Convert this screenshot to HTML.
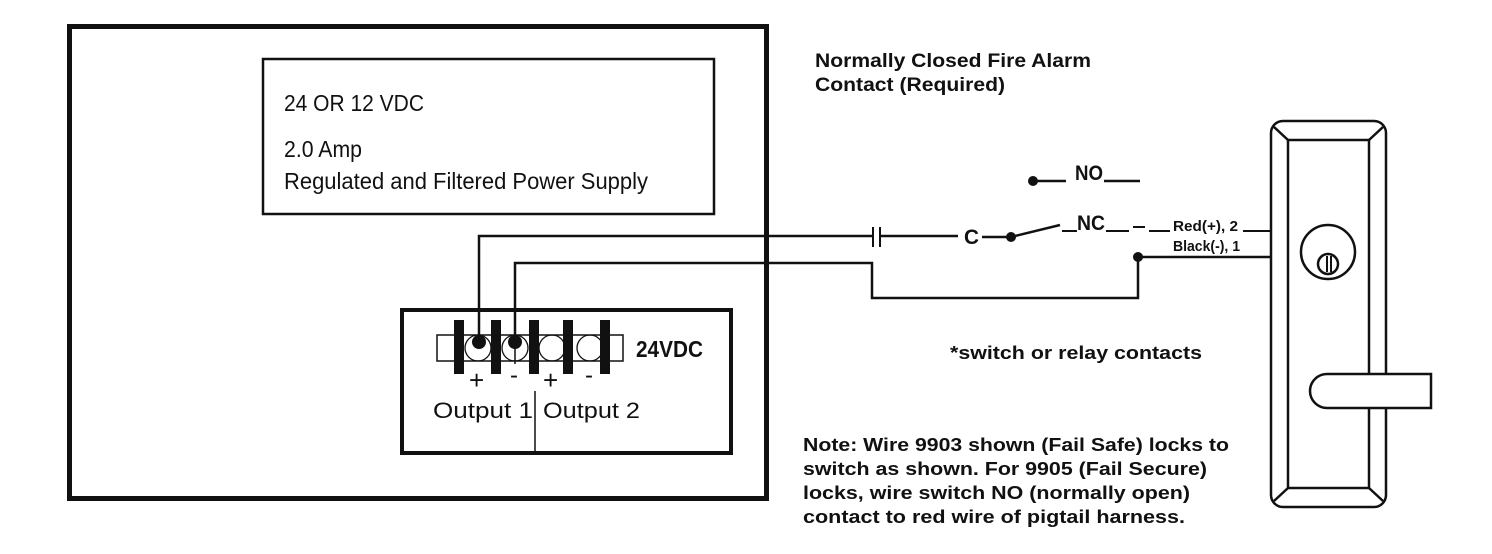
<!DOCTYPE html>
<html><head><meta charset="utf-8"><style>
html,body{margin:0;padding:0;background:#fff;}
svg{display:block}
text{font-family:"Liberation Sans",sans-serif;fill:#111}
.b{font-weight:bold}
</style></head><body>
<svg width="1492" height="554" viewBox="0 0 1492 554" xmlns="http://www.w3.org/2000/svg">
<g fill="none" stroke="#111">
<rect x="69.5" y="26.5" width="697" height="472" stroke-width="5"/>
<rect x="263" y="59" width="451" height="155" stroke-width="2.5"/>
<rect x="402" y="310" width="329" height="143" stroke-width="4"/>
<rect x="437" y="335" width="186" height="26" stroke-width="1.5"/>
<g stroke-width="1.3">
<circle cx="478" cy="348" r="13"/><circle cx="515" cy="348" r="13"/><circle cx="552" cy="348" r="13"/><circle cx="590" cy="348" r="13"/>
</g>
<line x1="535" y1="391" x2="535" y2="453" stroke-width="1.5"/>
<polyline points="479,342 479,236 872,236" stroke-width="2.5"/>
<polyline points="515,342 515,263 872,263 872,298 1138,298 1138,257 1271,257" stroke-width="2.5"/>
<line x1="515" y1="342" x2="515" y2="364" stroke-width="1.5"/>
<line x1="873" y1="227" x2="873" y2="247" stroke-width="2"/>
<line x1="880" y1="227" x2="880" y2="247" stroke-width="2"/>
<line x1="880" y1="236" x2="958" y2="236" stroke-width="2.5"/>
<line x1="982" y1="237" x2="1011" y2="237" stroke-width="2.5"/>
<line x1="1011" y1="237" x2="1060" y2="225" stroke-width="2.5"/>
<line x1="1062" y1="231" x2="1077" y2="231" stroke-width="2"/>
<line x1="1106" y1="231" x2="1129" y2="231" stroke-width="2"/>
<line x1="1133" y1="227" x2="1145" y2="227" stroke-width="2"/>
<line x1="1149" y1="231" x2="1170" y2="231" stroke-width="2"/>
<line x1="1243" y1="231" x2="1271" y2="231" stroke-width="2"/>
<line x1="1033" y1="181" x2="1066" y2="181" stroke-width="2.5"/>
<line x1="1104" y1="181" x2="1140" y2="181" stroke-width="2.5"/>
<g stroke-width="2.5">
<rect x="1271" y="121" width="115" height="386" rx="12"/>
<rect x="1288" y="140" width="81" height="348"/>
<line x1="1274" y1="127" x2="1288" y2="140"/><line x1="1383" y1="127" x2="1369" y2="140"/>
<line x1="1274" y1="501" x2="1288" y2="488"/><line x1="1383" y1="501" x2="1369" y2="488"/>
<circle cx="1328" cy="252" r="27"/>
<circle cx="1328" cy="264" r="10"/>
<path d="M1327,256 V272 M1331,256 V272" stroke-width="2"/>
<path d="M1327,374 H1431 V408 H1327 A17,17 0 0 1 1327,374 Z" fill="#fff"/>
</g>
</g>
<g fill="#111">
<rect x="454" y="320" width="10" height="54"/><rect x="491" y="320" width="10" height="54"/><rect x="529" y="320" width="10" height="54"/><rect x="563" y="320" width="10" height="54"/><rect x="600" y="320" width="10" height="54"/>
<circle cx="479" cy="342" r="7"/><circle cx="515" cy="342" r="7"/>
<circle cx="1011" cy="237" r="5"/><circle cx="1033" cy="181" r="5"/><circle cx="1138" cy="257" r="5"/>
</g>
<text x="284" y="111" font-size="23" textLength="140" lengthAdjust="spacingAndGlyphs">24 OR 12 VDC</text>
<text x="284" y="157" font-size="23" textLength="78" lengthAdjust="spacingAndGlyphs">2.0 Amp</text>
<text x="284" y="189" font-size="23" textLength="364" lengthAdjust="spacingAndGlyphs">Regulated and Filtered Power Supply</text>
<text x="636" y="357" font-size="23" class="b" textLength="67" lengthAdjust="spacingAndGlyphs">24VDC</text>
<text x="469" y="389" font-size="26">+</text>
<text x="510" y="383" font-size="24">-</text>
<text x="543" y="389" font-size="26">+</text>
<text x="585" y="383" font-size="24">-</text>
<text x="433" y="418" font-size="22" textLength="100" lengthAdjust="spacingAndGlyphs">Output 1</text>
<text x="543" y="418" font-size="22" textLength="97" lengthAdjust="spacingAndGlyphs">Output 2</text>
<text x="815" y="67" font-size="19" class="b" textLength="276" lengthAdjust="spacingAndGlyphs">Normally Closed Fire Alarm</text>
<text x="815" y="91" font-size="19" class="b" textLength="190" lengthAdjust="spacingAndGlyphs">Contact (Required)</text>
<text x="1075" y="180" font-size="21" class="b" textLength="28" lengthAdjust="spacingAndGlyphs">NO</text>
<text x="1077" y="230" font-size="21" class="b" textLength="28" lengthAdjust="spacingAndGlyphs">NC</text>
<text x="964" y="244" font-size="21" class="b" textLength="15" lengthAdjust="spacingAndGlyphs">C</text>
<text x="1173" y="231" font-size="15" class="b" textLength="65" lengthAdjust="spacingAndGlyphs">Red(+), 2</text>
<text x="1173" y="251" font-size="15" class="b" textLength="67" lengthAdjust="spacingAndGlyphs">Black(-), 1</text>
<text x="950" y="359" font-size="18" class="b" textLength="252" lengthAdjust="spacingAndGlyphs">*switch or relay contacts</text>
<g font-size="18" class="b">
<text x="803" y="451" textLength="426" lengthAdjust="spacingAndGlyphs">Note: Wire 9903 shown (Fail Safe) locks to</text>
<text x="803" y="475" textLength="404" lengthAdjust="spacingAndGlyphs">switch as shown. For 9905 (Fail Secure)</text>
<text x="803" y="499" textLength="387" lengthAdjust="spacingAndGlyphs">locks, wire switch NO (normally open)</text>
<text x="803" y="523" textLength="382" lengthAdjust="spacingAndGlyphs">contact to red wire of pigtail harness.</text>
</g>
</svg>
</body></html>
